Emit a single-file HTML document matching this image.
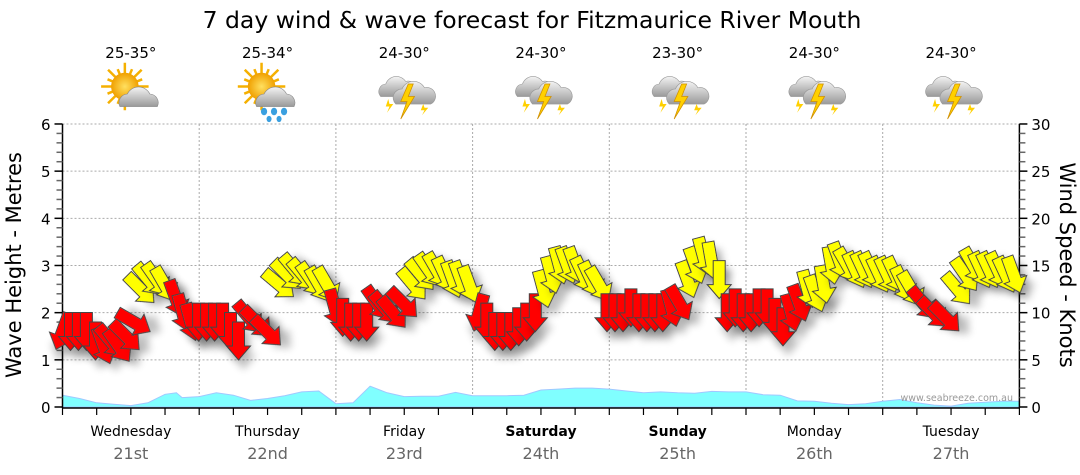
<!DOCTYPE html>
<html><head><meta charset="utf-8"><style>
body{margin:0;background:#fff;}
svg{display:block;font-family:"DejaVu Sans","Liberation Sans",sans-serif;}
</style></head><body>
<svg id="chart" width="1080" height="475" viewBox="0 0 1080 475" xmlns="http://www.w3.org/2000/svg">
<defs>
<filter id="sh" x="-50%" y="-50%" width="200%" height="200%"><feGaussianBlur in="SourceAlpha" stdDeviation="4"/><feOffset dx="5" dy="9"/><feComponentTransfer><feFuncA type="linear" slope="0.25"/></feComponentTransfer><feMerge><feMergeNode/><feMergeNode in="SourceGraphic"/></feMerge></filter>
<radialGradient id="sunG"><stop offset="0" stop-color="#ffe060"/><stop offset="1" stop-color="#f0a000"/></radialGradient>
<linearGradient id="cloudG" x1="0" y1="0" x2="0" y2="1"><stop offset="0" stop-color="#f4f4f4"/><stop offset="1" stop-color="#9a9a9a"/></linearGradient>
</defs>
<text x="532" y="28" font-size="23.5" text-anchor="middle" fill="#000">7 day wind &amp; wave forecast for Fitzmaurice River Mouth</text>
<g id="grid"></g>
<g id="waves"></g>
<g id="axes"></g>
<g id="arrows"></g>
<g id="days"></g>
<text transform="translate(21,265) rotate(-90)" font-size="21" text-anchor="middle" fill="#000">Wave Height - Metres</text>
<text transform="translate(1060,265) rotate(90)" font-size="21" text-anchor="middle" fill="#000">Wind Speed - Knots</text>
<text x="1013" y="401" font-size="9.5" text-anchor="end" fill="#999">www.seabreeze.com.au</text>
</svg>
<script>
const dayNames=["Wednesday","Thursday","Friday","Saturday","Sunday","Monday","Tuesday"];
const dayDates=["21st","22nd","23rd","24th","25th","26th","27th"];
const dayBold=[false,false,false,true,true,false,false];
const temps=["25-35°","25-34°","24-30°","24-30°","23-30°","24-30°","24-30°"];
const icons=["sun-cloud","sun-rain","storm","storm","storm","storm","storm"];
const waveHours=[0,3,6,9,12,15,18,20,21,24,27,30,33,36,39,42,45,48,51,54,57,60,63,66,69,72,75,78,81,84,87,90,93,96,99,102,105,108,111,114,117,120,123,126,129,132,135,138,141,144,147,150,153,156,159,162,165,168];
const waveM=[0.25,0.18,0.09,0.06,0.03,0.09,0.27,0.3,0.2,0.22,0.3,0.25,0.14,0.18,0.24,0.32,0.34,0.07,0.09,0.44,0.3,0.22,0.23,0.23,0.31,0.24,0.24,0.24,0.25,0.36,0.38,0.4,0.4,0.38,0.34,0.3,0.32,0.3,0.29,0.33,0.32,0.32,0.26,0.25,0.13,0.12,0.08,0.05,0.07,0.12,0.16,0.09,0.04,0.02,0.08,0.1,0.12,0.12];
const windHours=[0,1.4,2.8,4.2,5.8,7.2,8.4,9.8,11.1,12.5,13.7,15.1,16.5,17.9,19.9,21.1,22.5,23.9,25.3,26.7,28.1,29.5,30.9,32.7,34.1,35.9,38,39.4,40.8,42.2,43.6,45,46.4,47.8,49.2,50.6,52,53.4,55.2,56.6,58,59.8,61.5,62.9,64.3,65.7,67.1,68.5,69.9,71.4,73.1,74.5,75.9,77.3,78.7,80.1,81.5,83,84.4,85.8,87.2,88.6,90,91.4,92.8,94.2,95.6,97,98.4,99.8,101.2,102.6,104,105.4,106.9,108.3,109.7,111.1,112.5,113.9,115.3,116.7,118.1,119.5,120.9,122.3,123.7,125.1,126.5,127.9,129.3,130.8,132.2,133.6,135,136.4,137.8,139.2,140.6,142,143.4,144.8,146.2,147.6,149,151.1,152.9,155,157.1,158.5,159.9,161.3,162.7,164.2,165.6,167];
const windKts=[8,8,8,8,7,6.5,7,6.5,7.5,9,12.5,13.5,13.5,13,11.5,10,9,9,9,9,9,8,7,9.5,9,8,13,14,14.5,14,13.5,13,13,10.5,9.5,9,9,9,11,10.5,10,11,13,14,14.5,14.5,14,13.5,13.5,13,10,9,8,8,8,8.5,9,10,12.5,14,15,15,15,14,13.5,13,10,10,10,10.5,10,10,10,10,10.5,11,13.5,15,16,15.5,13.5,10,10.5,10,10,10.5,10.5,9.5,8.5,10,11,12.5,12,13,15,15.5,15,14.5,14.5,14.5,14,14,14,13,12.5,11,10,9.5,12.5,14,15,14.5,14.5,14.5,14,14];
const windFrom=[20,0,0,0,0,340,320,325,315,300,315,320,325,330,340,345,345,0,0,0,0,0,0,320,315,315,310,315,320,320,325,330,330,345,0,0,0,0,325,320,320,315,320,320,325,330,335,340,340,340,15,0,0,0,0,0,0,0,345,345,345,340,340,335,335,330,0,0,0,0,0,0,0,0,345,330,340,340,345,350,0,0,0,0,0,0,0,0,0,345,340,345,340,350,350,340,330,335,335,335,335,335,335,335,330,320,315,315,320,325,330,335,335,335,335,340];
const leftTicks=[0,1,2,3,4,5,6];
const rightTicks=[0,5,10,15,20,25,30];

const NS="http://www.w3.org/2000/svg";
const X0=62.5,DAYW=136.7,Y0=407,PXM=47.17;
const xH=h=>X0+h*DAYW/24;
const yM=m=>Y0-m*PXM;
const yK=k=>Y0-k*PXM*6/30;
function mk(tag,attrs,parent){const e=document.createElementNS(NS,tag);for(const k in attrs)e.setAttribute(k,attrs[k]);parent.appendChild(e);return e;}
const grid=document.getElementById('grid'),axes=document.getElementById('axes'),arrows=document.getElementById('arrows'),days=document.getElementById('days'),waves=document.getElementById('waves');
const XEND=xH(168);
for(let m=1;m<=6;m++){const l=mk('line',{x1:X0,x2:XEND,y1:yM(m),y2:yM(m),stroke:'#aaa','stroke-width':1,'stroke-dasharray':'2,2'},grid);

}
for(let d=1;d<7;d++){const l=mk('line',{x1:xH(d*24),x2:xH(d*24),y1:yM(6),y2:Y0,stroke:'#aaa','stroke-width':1,'stroke-dasharray':'2,2'},grid);

}
let d='M'+xH(waveHours[0])+','+Y0;
waveHours.forEach((h,i)=>{d+=' L'+xH(h).toFixed(1)+','+yM(waveM[i]).toFixed(1);});
d+=' L'+xH(waveHours[waveHours.length-1])+','+Y0+' Z';
const wa=mk('path',{d:d,fill:'#80ffff',stroke:'#a0c8ff','stroke-width':1},waves);


mk('line',{x1:X0,x2:X0,y1:yM(6),y2:Y0+1,stroke:'#000','stroke-width':1.5},axes);
mk('line',{x1:XEND,x2:XEND,y1:yK(30),y2:Y0+1,stroke:'#000','stroke-width':1.5},axes);
mk('line',{x1:X0,x2:XEND,y1:Y0+1,y2:Y0+1,stroke:'#000','stroke-width':1.5},axes);
for(let i=0;i<=30;i++){const y=yM(i*0.2);const big=i%5==0;mk('line',{x1:X0-(big?8:6),x2:X0,y1:y,y2:y,stroke:big?'#000':'#666','stroke-width':1.5},axes);}
for(let k=0;k<=30;k++){const y=yK(k);const big=k%5==0;mk('line',{x1:XEND,x2:XEND+(big?8:6),y1:y,y2:y,stroke:big?'#000':'#666','stroke-width':1.5},axes);}
for(let h=0;h<=168;h+=6){mk('line',{x1:xH(h),x2:xH(h),y1:Y0+1,y2:Y0+8,stroke:'#000','stroke-width':1.2},axes);}
leftTicks.forEach(v=>{const t=mk('text',{x:X0-12,y:yM(v)+6,'font-size':15,'text-anchor':'end',fill:'#000'},axes);t.textContent=v;

});
rightTicks.forEach(v=>{const t=mk('text',{x:XEND+12,y:yK(v)+6,'font-size':15,'text-anchor':'start',fill:'#000'},axes);t.textContent=v;

});
const shape='M-6,-19 L6,-19 L6,5 L12,5 L0,19 L-12,5 L-6,5 Z';
windHours.forEach((h,i)=>{const k=windKts[i];
const p=mk('path',{d:shape,transform:`translate(${xH(h).toFixed(1)},${yK(k).toFixed(1)}) rotate(${windFrom[i]})`,fill:k>=12?'#ffff00':'#ff0000',stroke:'#444','stroke-width':1,filter:'url(#sh)'},arrows);

});
function icon(g,type){
 if(type!=='storm'){const s=mk('g',{},g);
  for(let a=0;a<16;a++){const r=a*Math.PI/8;mk('line',{x1:-8+Math.cos(r)*10,y1:-6+Math.sin(r)*10,x2:-8+Math.cos(r)*(a%2?15:19),y2:-6+Math.sin(r)*(a%2?15:19),stroke:'#f5b000','stroke-width':2},s);}
  mk('circle',{cx:-8,cy:-6,r:11,fill:'url(#sunG)'},s);
  mk('path',{d:'M-12,10 a7,7 0 0 1 6,-10 a10,10 0 0 1 18,0 a7,7 0 0 1 6,10 Z',fill:'url(#cloudG)',stroke:'#888','stroke-width':0.5},g);
  if(type==='sun-rain'){[-6,2,10].forEach(x=>mk('ellipse',{cx:x,cy:14,rx:2.5,ry:3,fill:'#3aa0e0'},g));[-2,6].forEach(x=>mk('ellipse',{cx:x,cy:20,rx:2,ry:2.5,fill:'#3aa0e0'},g));}
 } else {
  mk('path',{d:'M-22,2 a6,6 0 0 1 4,-10 a9,9 0 0 1 16,-2 a6,6 0 0 1 4,12 Z',fill:'url(#cloudG)',stroke:'#999','stroke-width':0.5},g);
  mk('path',{d:'M-10,8 a7,7 0 0 1 5,-12 a10,10 0 0 1 18,-1 a7,7 0 0 1 5,13 Z',fill:'url(#cloudG)',stroke:'#999','stroke-width':0.5},g);
  mk('path',{d:'M0,-8 L-6,6 L-1,6 L-6,20 L5,2 L0,2 L4,-8 Z',fill:'#ffd000',stroke:'#d09000','stroke-width':0.6},g);
  mk('path',{d:'M-16,4 L-18,10 L-15,10 L-17,15 L-12,8 L-15,8 Z',fill:'#ffd000'},g);
  mk('path',{d:'M12,8 L10,13 L13,13 L11,17 L16,11 L13,11 Z',fill:'#ffd000'},g);
 }
}
dayNames.forEach((n,i)=>{const cx=xH(i*24+12);
 const t=mk('text',{x:cx,y:436,'font-size':14,'text-anchor':'middle',fill:'#000','font-weight':dayBold[i]?'bold':'normal'},days);t.textContent=n;
 
 
 const dt=mk('text',{x:cx,y:459,'font-size':16,'text-anchor':'middle',fill:'#666'},days);dt.textContent=dayDates[i];
 
 
 const tt=mk('text',{x:cx,y:58,'font-size':15,'text-anchor':'middle',fill:'#000'},days);tt.textContent=temps[i];
 
 
 const g=mk('g',{transform:`translate(${cx+4},94) scale(1.25)`},days);
 
 
 icon(g,icons[i]);
});
</script>
</body></html>
